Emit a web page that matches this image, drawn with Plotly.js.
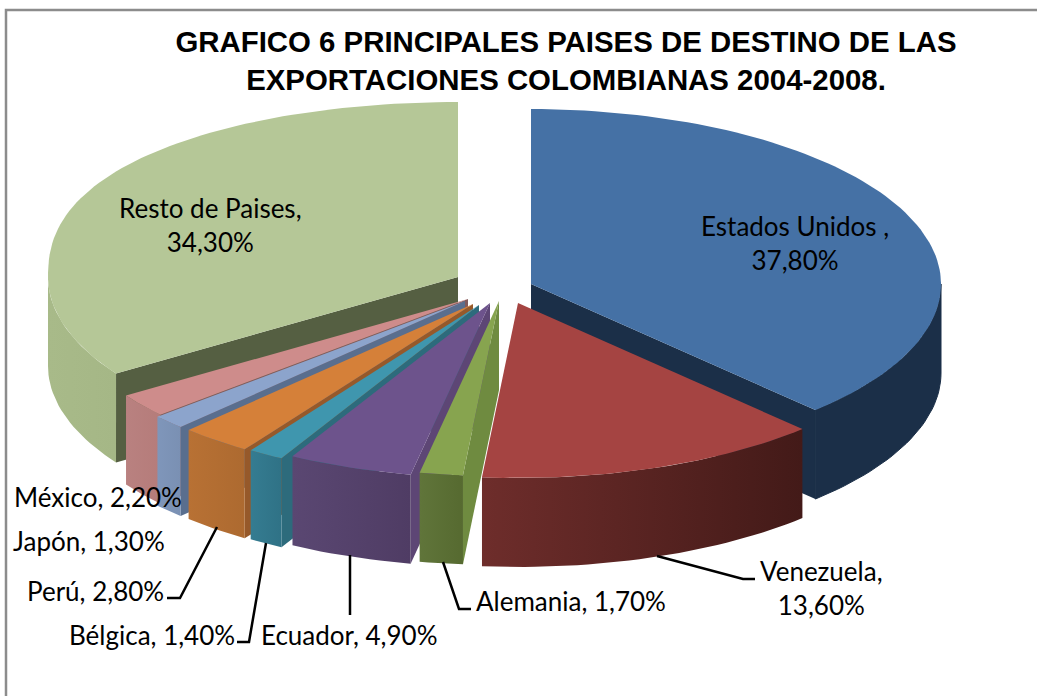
<!DOCTYPE html>
<html>
<head>
<meta charset="utf-8">
<script src="https://cdn.plot.ly/plotly-3.0.1.min.js"></script>
<style>html,body{margin:0;padding:0;background:#fff;overflow:hidden}</style>
</head>
<body>
<div id="chart" style="width:1037px;height:696px"></div>
<script>
// Data
const categories = ["Estados Unidos ", "Venezuela", "Alemania", "Ecuador", "Bélgica", "Perú", "Japón", "México", "Resto de Paises"];
const shares = [37.8, 13.6, 1.7, 4.9, 1.4, 2.8, 1.3, 2.2, 34.3];
const titleText = "GRAFICO 6 PRINCIPALES PAISES DE DESTINO DE LAS<br>EXPORTACIONES COLOMBIANAS 2004-2008.";

// Styles
const topColors  = ["#4571a5", "#a54442", "#87a44f", "#6d538c", "#3f96ae", "#d58039", "#8ca4cc", "#ce8c8b", "#b5c797"];
const wallColors = ["#1b2f48", "#431a18", "#6f8b40", "#5d4675", "#2d6b7c", "#96592a", "#596e8e", "#825a5b", "#555f42"];
const sideStart  = ["#1b2f48", "#6e2d2b", "#60753a", "#5a4772", "#357c91", "#b87134", "#7f96ba", "#b98180", "#a8ba89"];
const sideEnd    = ["#1b2f48", "#431a18", "#566a30", "#4f3c64", "#2f7286", "#ad6a30", "#7a90b3", "#b57c7a", "#a5b786"];

// Layout geometry of the exploded 3-D pie (pixels)
const radiusX = 410, radiusY = 175, depth = 89;
const apexX = [531, 518, 499, 490, 479, 473, 465, 468, 458];
const apexY = [284, 303, 301, 303, 305, 304, 301, 299, 277];
const farExponent = [1, 1, 1, 1, 1, 1, 1, 1, 0.85];
const drawOrder = [8, 0, 7, 6, 5, 4, 3, 2, 1];
const labelX = [795, 821, 571, 349, 152, 95, 89, 98, 210];
const labelY = [243, 588, 601, 635, 635, 591, 541, 497, 225];
const labelBreak = [true, true, false, false, false, false, false, false, true];
const leaders = [
  [[657, 743, 755], [556, 579, 579]],
  [[443, 459, 471], [562, 609, 609]],
  [[350, 350], [555, 615]],
  [[266, 249, 237], [543, 642, 642]],
  [[217, 180, 167], [527, 598, 598]]
];

const total = shares.reduce((a, b) => a + b, 0);
const rad = d => d * Math.PI / 180;
let cum = 0;
const spans = shares.map(v => { const a0 = cum; cum += v / total * 360; return [a0, cum]; });
const rimX = (i, a) => apexX[i] + radiusX * Math.sin(rad(a));
const rimY = (i, a) => {
  const c = Math.cos(rad(a));
  return apexY[i] - radiusY * (c > 0 ? Math.pow(c, farExponent[i]) : c);
};
function arc(a0, a1) {
  const n = Math.max(2, Math.ceil((a1 - a0) / 1.5));
  const out = [];
  for (let k = 0; k <= n; k++) out.push(a0 + (a1 - a0) * k / n);
  return out;
}
function poly(x, y, extra) {
  return Object.assign({
    type: "scatter", mode: "lines", x: x.concat(x[0]), y: y.concat(y[0]),
    fill: "toself", line: { width: 0 }, hoverinfo: "skip", showlegend: false
  }, extra);
}

const traces = [];
drawOrder.forEach(i => {
  const [a0, a1] = spans[i];
  const flatSide = sideStart[i] === wallColors[i];
  const wallAngles = [];
  if (a1 < 180) wallAngles.push(a1);
  if (a0 > 180) wallAngles.push(a0);
  wallAngles.forEach(a => {
    const X = rimX(i, a), Y = rimY(i, a);
    traces.push(poly([apexX[i], X, X, apexX[i]], [apexY[i], Y, Y + depth, apexY[i] + depth],
      { fillcolor: wallColors[i] }));
  });
  const s0 = Math.max(a0, 90), s1 = Math.min(a1, 270);
  if (s1 > s0) {
    const as = arc(s0, s1);
    const xs = as.map(a => rimX(i, a));
    const ys = as.map(a => rimY(i, a));
    const px = xs.concat(xs.slice().reverse());
    const py = ys.concat(ys.map(y => y + depth).reverse());
    traces.push(poly(px, py, flatSide
      ? { fillcolor: wallColors[i], line: { width: 1, color: wallColors[i] } }
      : { fillgradient: { type: "horizontal", colorscale: [[0, sideStart[i]], [1, sideEnd[i]]] } }));
  }
  const as = arc(a0, a1);
  traces.push(poly([apexX[i]].concat(as.map(a => rimX(i, a))), [apexY[i]].concat(as.map(a => rimY(i, a))),
    { fillcolor: topColors[i] }));
});
leaders.forEach(l => traces.push({
  type: "scatter", mode: "lines", x: l[0], y: l[1],
  line: { color: "#000", width: 2.5 }, hoverinfo: "skip", showlegend: false
}));

const fmt = v => v.toFixed(2).replace(".", ",") + "%";
const annotations = categories.map((c, i) => ({
  x: labelX[i], y: labelY[i], xref: "x", yref: "y", xanchor: "center", yanchor: "middle",
  showarrow: false, align: "center",
  text: labelBreak[i] ? c + ",<br>" + fmt(shares[i]) : c + ", " + fmt(shares[i]),
  font: { family: "Lato, sans-serif", size: 26, color: "#000" }
}));

const layout = {
  width: 1037, height: 696, autosize: false,
  margin: { l: 0, r: 0, t: 0, b: 0 },
  paper_bgcolor: "#fff", plot_bgcolor: "#fff", showlegend: false,
  title: {
    text: titleText, x: 566 / 1037, xanchor: "center", y: 1 - 52 / 696, yanchor: "middle",
    yref: "container", font: { family: "Liberation Sans, Arial, sans-serif", size: 29.4, color: "#000", weight: 700 }
  },
  xaxis: { range: [0, 1037], visible: false, fixedrange: true },
  yaxis: { range: [696, 0], visible: false, fixedrange: true },
  annotations,
  shapes: [{
    type: "path", xref: "x", yref: "y", path: "M 6 696 L 6 10 L 1037 10",
    line: { color: "#8c8c8c", width: 2.5 }, layer: "below"
  }]
};
Plotly.newPlot("chart", traces, layout, { displayModeBar: false, staticPlot: true });
</script>
</body>
</html>
